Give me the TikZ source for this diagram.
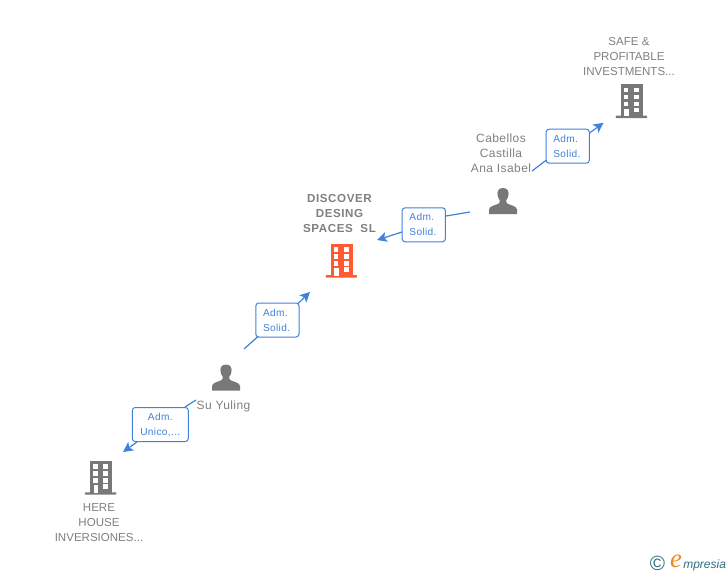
\documentclass[tikz,border=0pt]{standalone}
\usepackage{fontspec}
\setmainfont{Liberation Sans}
\newfontfamily\spacedbold[LetterSpace=5]{Liberation Sans}
\newfontfamily\spacedreg[LetterSpace=3.5]{Liberation Sans}
\newfontfamily\logoserif{Liberation Serif}
\usetikzlibrary{arrows.meta}
\definecolor{inkgrey}{HTML}{808080}
\definecolor{icongrey}{HTML}{787878}
\definecolor{iconorange}{HTML}{FF5B33}
\definecolor{linkblue}{HTML}{3F82DC}
\definecolor{logoteal}{HTML}{2F6F80}
\definecolor{logoorange}{HTML}{F08A1D}
\tikzset{
  label/.style={font=\fontsize{9pt}{11.25pt}\selectfont\spacedreg,text=inkgrey,align=center,inner sep=0pt},
  smalllabel/.style={font=\fontsize{8.65pt}{11.25pt}\selectfont,text=inkgrey,align=center,inner sep=0pt},
  boldlabel/.style={font=\fontsize{8.7pt}{11.25pt}\selectfont\spacedbold\bfseries,text=inkgrey,align=center,inner sep=0pt},
  linkbox/.style={draw=linkblue,line width=0.75pt,rounded corners=2.2pt,fill=white,text=linkblue,
    font=\fontsize{7.6pt}{11.25pt}\selectfont\spacedreg,inner ysep=0pt,minimum height=25.5pt},
  leftbox/.style={linkbox,align=left,text width=21.6pt,inner xsep=5.4pt},
  centerbox/.style={linkbox,align=center,text width=38pt,inner xsep=2pt},
  link/.style={draw=linkblue,line width=0.9pt},
  linkarrow/.style={link,-{Stealth[length=7.5pt,width=7.5pt,inset=1.8pt]}},
  pics/building/.style={code={
    \fill[#1] (-9.5,-17) rectangle (12.5,15);
    \fill[#1,rounded corners=0.5pt] (-14.8,14.7) rectangle (16.6,17);
    \foreach \yy in {-13.3,-6.3,0.7} {
      \fill[white] (-6.8,\yy) rectangle (-2.2,\yy+4.3);
      \fill[white] (3.5,\yy) rectangle (8.5,\yy+4.3);
    }
    \fill[white] (3.5,6.7) rectangle (8.5,11);
    \fill[white] (-6.2,7.5) rectangle (-1.6,15);
  }},
  pics/person/.style={code={
    \fill[icongrey] (0,-13) .. controls (-4.6,-13) and (-6.2,-9.5) .. (-5.4,-5.5)
      .. controls (-5,-3.2) and (-4,-1.6) .. (-3.2,-0.8)
      .. controls (-3.2,0.8) and (-3.4,2) .. (-4.6,2.7)
      .. controls (-7.5,4.2) and (-13.6,5) .. (-14,8.5)
      -- (-14,13) -- (14,13) -- (14,8.5)
      .. controls (13.6,5) and (7.5,4.2) .. (4.6,2.7)
      .. controls (3.4,2) and (3.2,0.8) .. (3.2,-0.8)
      .. controls (4,-1.6) and (5,-3.2) .. (5.4,-5.5)
      .. controls (6.2,-9.5) and (4.6,-13) .. (0,-13) -- cycle;
  }}
}
\begin{document}
\begin{tikzpicture}[x=0.75pt,y=-0.75pt]
\useasboundingbox (0,0) rectangle (728,575);
\fill[white] (0,0) rectangle (728,575);

% icons
\pic at (630.5,101) {building=icongrey};
\pic at (340.5,260.5) {building=iconorange};
\pic at (99.7,477.6) {building=icongrey};
\pic at (503,201) {person};
\pic at (226,377.5) {person};

% labels
\node[smalllabel] (safe) at (629,57) {SAFE \&\\PROFITABLE\\INVESTMENTS...};
\node[label] (cabellos) at (501,153) {Cabellos\\Castilla\\Ana Isabel};
\node[boldlabel] (discover) at (339.5,214) {DISCOVER\\DESING\\SPACES\ \ SL};
\node[label] (yuling) at (223.5,406.5) {Su Yuling};
\node[smalllabel] (here) at (99,523) {HERE\\HOUSE\\INVERSIONES...};

% boxes
\node[leftbox] (b1) at (567.7,146.2) {Adm.\\Solid.};
\node[leftbox] (b2) at (423.8,224.8) {Adm.\\Solid.};
\node[leftbox] (b3) at (277.4,320) {Adm.\\Solid.};
\node[centerbox] (b4) at (160.3,424.5) {Adm.\\Unico,...};

% free ends of the connectors
\coordinate (s1) at (532,171);
\coordinate (e1) at (603.5,122.8);
\coordinate (s2) at (470,212);
\coordinate (e2) at (377,240);
\coordinate (s3) at (244,349);
\coordinate (e3) at (310,292);
\coordinate (s4) at (196,400);
\coordinate (e4) at (123,452);

% connectors
\draw[link] (s1) -- (546.5,160);
\draw[linkarrow] (589.5,133) -- (e1);
\draw[link] (s2) -- (446,216);
\draw[linkarrow] (402,232) -- (e2);
\draw[link] (s3) -- (258,336.5);
\draw[linkarrow] (298,303.5) -- (e3);
\draw[link] (s4) -- (185,407);
\draw[linkarrow] (137,442) -- (e4);

% logo
\node[inner sep=0pt,font=\fontsize{15.5pt}{15.5pt}\selectfont,text=logoteal] (copy) at (657.5,563.5) {©};
\node[inner sep=0pt,font=\fontsize{20pt}{20pt}\selectfont\logoserif\itshape,text=logoorange] (elogo) at (676,561) {e};
\node[inner sep=0pt,anchor=base west,font=\fontsize{9pt}{10pt}\selectfont\itshape,text=logoteal] (mpresia) at (683,568) {mpresia};
\end{tikzpicture}
\end{document}
